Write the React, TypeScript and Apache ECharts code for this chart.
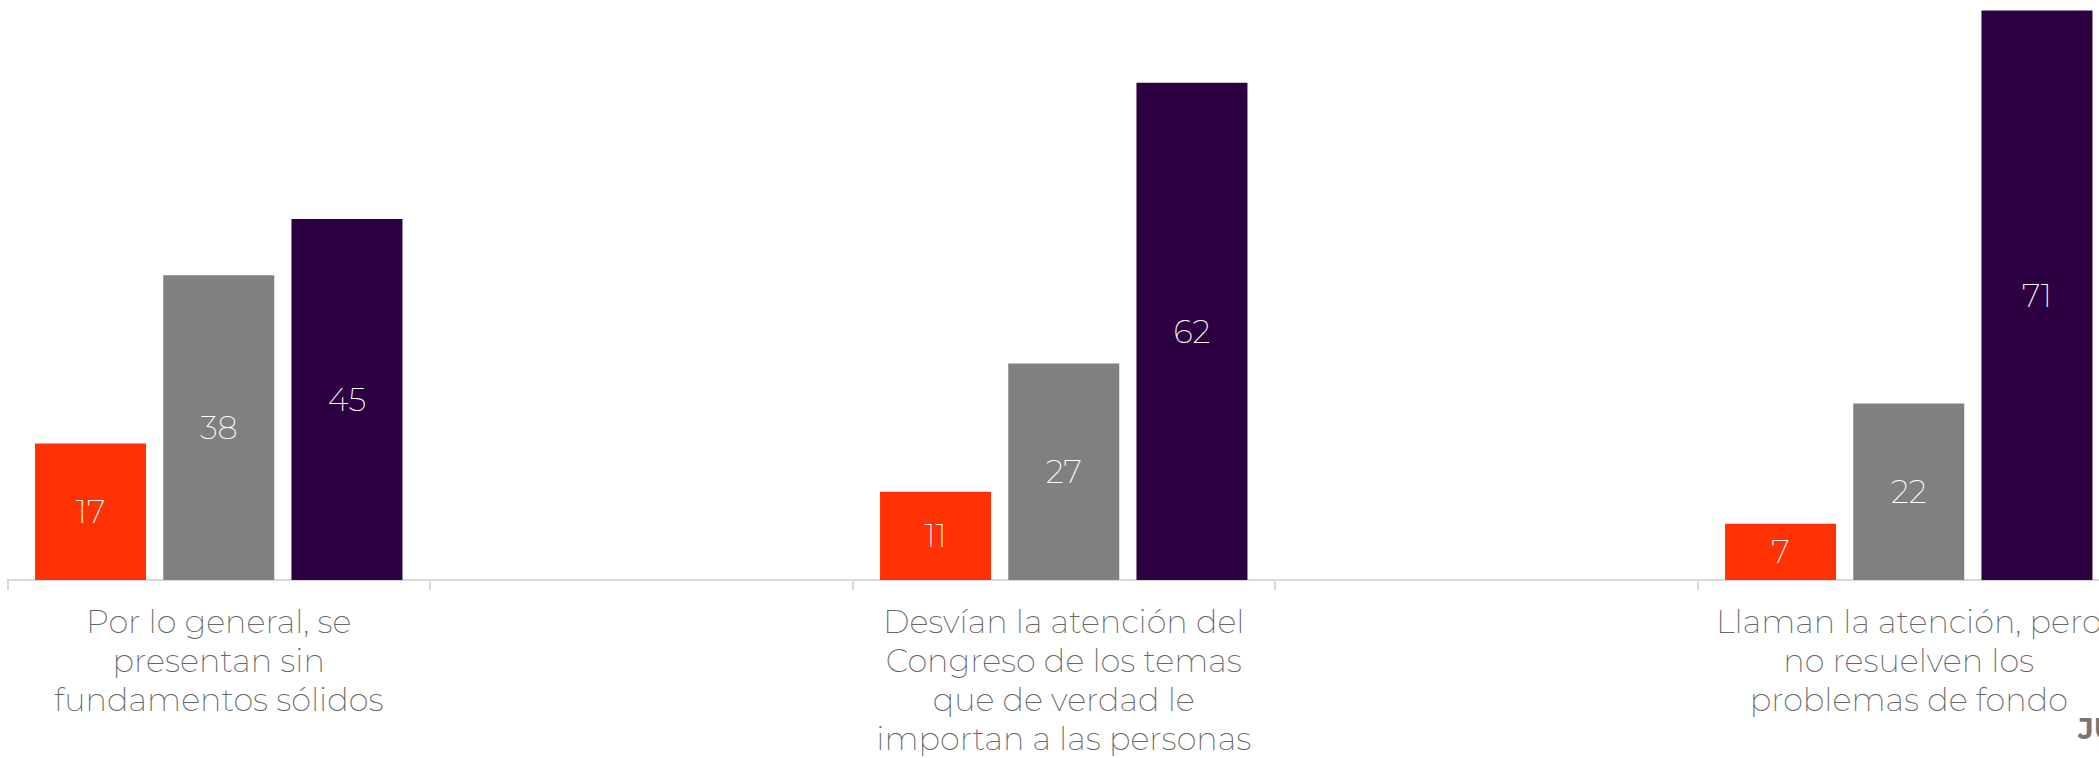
import React, { useEffect, useRef } from "react";
import * as echarts from "echarts";

const categories = [
  "Por lo general, se\npresentan sin\nfundamentos sólidos",
  "",
  "Desvían la atención del\nCongreso de los temas\nque de verdad le\nimportan a las personas",
  "",
  "Llaman la atención, pero\nno resuelven los\nproblemas de fondo",
];
const seriesNames = ["Serie 1", "Serie 2", "Serie 3"];
const serieA = [17, null, 11, null, 7];
const serieB = [38, null, 27, null, 22];
const serieC = [45, null, 62, null, 71];
const colors = ["#FF3205", "#808080", "#2D0041"];
const watermark = "JU";

const FONT = "Montserrat, 'DejaVu Sans', sans-serif";
const CHART_W = 2140;

export default function App() {
  const ref = useRef<HTMLDivElement>(null);
  useEffect(() => {
    if (!ref.current) return;
    const chart = echarts.init(ref.current, null, { renderer: "svg" });
    const values = [serieA, serieB, serieC];
    chart.setOption({
      animation: false,
      backgroundColor: "#ffffff",
      grid: { left: 7.5, right: CHART_W - 2120, top: 0, bottom: 175, containLabel: false },
      xAxis: {
        type: "category",
        data: categories,
        axisLine: { lineStyle: { color: "#d9d9d9", width: 2 } },
        axisTick: { show: true, length: 10, lineStyle: { color: "#d9d9d9", width: 2 } },
        axisLabel: {
          interval: 0,
          margin: 22,
          color: "#666666",
          fontFamily: FONT,
          fontWeight: 200,
          fontSize: 32,
          lineHeight: 39,
          align: "center",
        },
      },
      yAxis: {
        type: "value",
        min: 0,
        max: 72.3,
        show: false,
        splitLine: { show: false },
      },
      series: values.map((v, i) => ({
        name: seriesNames[i],
        type: "bar",
        data: v,
        barWidth: 111,
        barGap: "15.5%",
        itemStyle: { color: colors[i] },
        label: {
          show: true,
          position: "inside",
          color: "#ffffff",
          fontFamily: FONT,
          fontWeight: 200,
          fontSize: 32,
        },
      })),
      graphic: [
        {
          type: "text",
          left: 2078,
          top: 714,
          style: {
            text: watermark,
            fill: "#777777",
            font: "bold 29px " + FONT,
          },
        },
      ],
    });
    return () => chart.dispose();
  }, []);
  return (
    <div
      style={{ position: "absolute", left: 0, top: 0, width: 2099, height: 758, overflow: "hidden" }}
    >
      <div ref={ref} style={{ width: CHART_W, height: 758 }} />
    </div>
  );
}
